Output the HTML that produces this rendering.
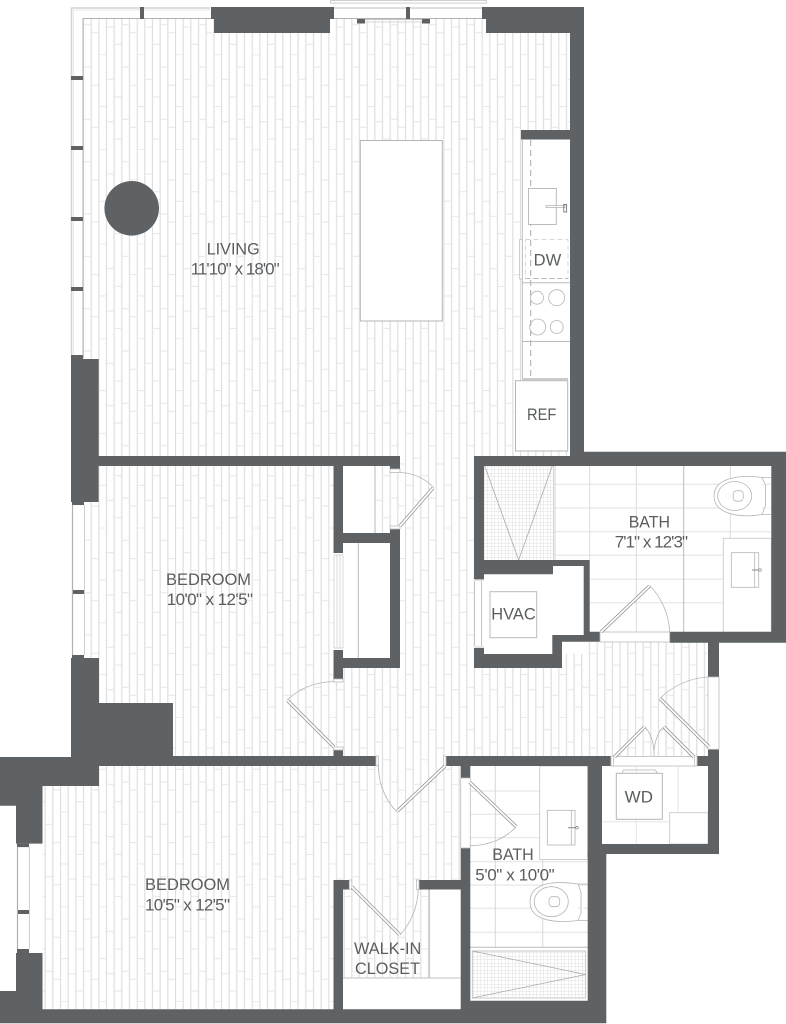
<!DOCTYPE html>
<html>
<head>
<meta charset="utf-8">
<title>Floor plan</title>
<style>
html,body{margin:0;padding:0;background:#fff;width:786px;height:1024px;overflow:hidden}
svg{display:block}
text{font-family:"Liberation Sans",sans-serif;font-size:16.5px;fill:#5a5d5f}
text.d{font-size:17px}
.w{fill:#5f6264}
.t{stroke:#aaa;stroke-width:.8;fill:none}
.m{stroke:#bbb;stroke-width:1;fill:none}
.f{stroke:#e2e2e2;stroke-width:1;fill:none}
.a{stroke:#b5b5b5;stroke-width:.8;fill:none}
</style>
</head>
<body>
<svg width="786" height="1024" viewBox="0 0 786 1024" xmlns="http://www.w3.org/2000/svg">
<defs>
<pattern id="pl" patternUnits="userSpaceOnUse" x="136.67" y="338.3" width="38.33" height="94.67">
<path d="M.5,0V94.67M8.17,0V94.67M15.83,0V94.67M23.5,0V94.67M31.17,0V94.67" stroke="#dedede" stroke-width="1.2" fill="none"/>
<path d="M0,.3H7.67M0,52.3H7.67M7.67,25H15.33M7.67,67.4H15.33M15.33,42.7H23M15.33,84.7H23M23,12.7H30.67M23,65H30.67M30.67,31H38.33M30.67,73H38.33" stroke="#e6e6e6" stroke-width="1" fill="none"/>
</pattern>
<pattern id="mesh" patternUnits="userSpaceOnUse" x="484" y="466" width="3.5" height="3.5">
<path d="M0,0H3.5M0,0V3.5" stroke="#d6d6d6" stroke-width=".7" fill="none"/>
</pattern>
<path id="leaves" d="M400,526L433,488M334,747L287.5,700.5M445,766L397.5,811M352,887L399.5,934.5M601,632L649.5,586M469.5,782L516,826.5M614.5,757L644.5,727M694,757L664,727M709,747L660,698.5"/>
</defs>

<!-- floor -->
<path fill="url(#pl)" d="M83,18.5H570V130H521V381H516V451H570V456H474V668H562V642H708V756H460.7V880H429V978H343V1009H42.5V786H99V659H84V502H99V456H83Z"/>
<rect x="343" y="466" width="32" height="67" fill="#fff"/>
<rect x="343" y="533" width="57" height="135" fill="#fff"/>
<path class="m" d="M375,466V533M358.3,543V658"/>
<rect x="429" y="889" width="32" height="120" fill="#fff"/>
<rect x="343" y="978" width="118" height="31" fill="#fff"/>
<path d="M343,978H461" stroke="#d5d5d5" stroke-width="1.5"/>
<path class="m" d="M429.3,889V978"/>

<!-- living windows -->
<path d="M71.5,355V8H210M330,8H486" stroke="#d4d4d4" stroke-width="1.6" fill="none"/>
<path d="M83,358V18.5H211M334,18.5H486" stroke="#b0b0b0" stroke-width="1" fill="none"/>
<path d="M73.5,355V10H210" stroke="#e8e8e8" stroke-width="1" fill="none"/>
<rect x="330.5" y=".5" width="156" height="2.6" fill="#fff" stroke="#c4c4c4" stroke-width=".8"/>
<path d="M365,19.5H422" stroke="#c8c8c8" stroke-width="1"/><path d="M365,22H422" stroke="#d8d8d8" stroke-width="1"/>
<rect class="w" x="71" y="76" width="12" height="4"/><rect class="w" x="71" y="146" width="12" height="4"/><rect class="w" x="71" y="217" width="12" height="4"/><rect class="w" x="71" y="287" width="12" height="4"/>
<rect class="w" x="140" y="7" width="4" height="12"/><rect class="w" x="211" y="7" width="4" height="12"/><rect class="w" x="330" y="7" width="4" height="12"/>
<rect class="w" x="406" y="7" width="4" height="12"/><rect class="w" x="482" y="7" width="5" height="12"/>
<rect class="w" x="357" y="19" width="8" height="4.5"/><rect class="w" x="422" y="19" width="8" height="4.5"/>

<!-- island, column -->
<rect x="360.3" y="140.5" width="82" height="180.5" fill="#fff" stroke="#b5b5b5" stroke-width="1"/>
<circle cx="131.7" cy="208.3" r="27.3" class="w"/>

<!-- kitchen -->
<rect x="522.3" y="140" width="47.7" height="238" fill="#fff"/>
<path class="m" d="M522.3,140V379"/>
<path d="M530.7,140V378" stroke="#aaa" stroke-width="1" stroke-dasharray="6 4" fill="none"/>
<rect x="528.5" y="188.5" width="27.8" height="36" fill="#fff" stroke="#bbb" stroke-width="1"/>
<rect x="546" y="205.6" width="19" height="1.8" fill="#fff" stroke="#aaa" stroke-width=".7"/>
<rect x="563.8" y="204.5" width="2.8" height="7.5" fill="none" stroke="#777" stroke-width=".9"/>
<rect x="525.5" y="239.5" width="42.5" height="39" fill="none" stroke="#d8d8d8" stroke-width="1" stroke-dasharray="5 3"/>
<path d="M525.5,278.5H568" stroke="#bbb" stroke-width="1" stroke-dasharray="5 3"/>
<rect x="519.7" y="239.5" width="2.6" height="39.5" fill="#fff" stroke="#bbb" stroke-width=".8"/>
<path class="m" d="M522.3,282.7H570M522.3,341.5H570"/>
<circle class="a" cx="537" cy="297.7" r="6.5"/><circle class="a" cx="556.7" cy="297.7" r="8"/><circle class="a" cx="537.7" cy="327" r="8"/><circle class="a" cx="556.7" cy="327" r="6.5"/>
<path d="M522,379H568" stroke="#ccc" stroke-width="2"/>
<rect x="515.5" y="380.7" width="52.2" height="70.3" fill="#fff" stroke="#b5b5b5" stroke-width="1"/>

<!-- bath 1 -->
<rect x="484" y="466" width="288" height="166" fill="#fff"/>
<path class="f" d="M554,484.3H771M554,508H771M554,531.7H771M554,555.3H771M590,579.3H771M590,602.7H771"/>
<path stroke="#dcdcdc" stroke-width="1" fill="none" d="M589.7,466V560M636.3,466V632M730.3,466V538"/>
<path class="m" d="M683.7,466V632"/>
<rect x="484" y="466" width="69" height="94" fill="url(#mesh)"/>
<path d="M553.5,466V560M555,466V560" stroke="#ccc" stroke-width=".8" fill="none"/>
<path class="t" d="M484.7,466L518.7,560L552.3,466"/>
<path class="a" fill="#fff" d="M762,477.5C742,474.5 714,477 714,496C714,515 742,518 762,514.5H771M762,477.5H771M762,477.5L765.5,485V506L762,514.5" style="fill:#fff"/>
<ellipse class="a" cx="734.7" cy="496" rx="17" ry="14.5"/>
<rect class="a" x="733.2" y="490.7" width="10" height="10.5" rx="3.5"/>
<rect x="723.3" y="538.3" width="48" height="94" fill="#fff" stroke="#c4c4c4" stroke-width=".8"/>
<rect class="a" x="731.3" y="552.7" width="27.4" height="34.6"/>
<path class="a" d="M754.7,552.7V587.3"/>
<path d="M752,570H759" stroke="#888" stroke-width="1"/><circle cx="760" cy="570" r="1.3" fill="#fff" stroke="#888" stroke-width=".7"/>

<!-- HVAC -->
<rect x="484" y="566" width="100" height="88" fill="#fff"/>
<rect x="474" y="579" width="10" height="69" fill="#fff"/>
<path class="a" d="M474.5,581V646M481.5,581V646M474.5,580H484M474.5,647H484"/>
<rect x="490" y="591.7" width="46.7" height="46" fill="#fff" stroke="#bbb" stroke-width="1"/>

<!-- bath 2 -->
<rect x="470" y="766" width="118" height="235" fill="#fff"/>
<path class="f" d="M470,791H540M470,814.3H540M470,837.7H540M470,861.7H588M470,885H588M470,908.3H588M470,932.3H588"/>
<path stroke="#d8d8d8" stroke-width="1" fill="none" d="M495.3,766V948M542.7,860V948"/>
<path class="m" d="M470,947.3H588"/>
<rect x="539.7" y="766" width="48" height="93.5" fill="#fff" stroke="#c4c4c4" stroke-width=".8"/>
<rect class="a" x="547.3" y="810.3" width="27.7" height="34.7"/>
<path class="a" d="M571.3,810.3V845"/>
<path d="M568,827.7H576" stroke="#888" stroke-width="1"/><circle cx="577" cy="827.7" r="1.3" fill="#fff" stroke="#888" stroke-width=".7"/>
<path class="a" style="fill:#fff" d="M578,884C558,881 530,881 530,902C530,922 558,923 578,920.5H587.7M578,884H587.7M578,884L581,892V913L578,920.5"/>
<ellipse class="a" cx="551.3" cy="901.7" rx="17" ry="15"/>
<rect class="a" x="549" y="896.7" width="10.7" height="10" rx="3.5"/>
<rect x="472.3" y="951" width="113.4" height="47" fill="url(#mesh)" stroke="#bbb" stroke-width=".8"/>
<path class="t" d="M472.3,951L585.7,974.5L472.3,998"/>

<!-- laundry -->
<rect x="602" y="766" width="106" height="78" fill="#fff"/>
<path stroke="#e6e6e6" stroke-width="1" fill="none" d="M602,821.7H670M636.3,766V844M678,766V812"/>
<rect x="669.7" y="812.7" width="38.3" height="31.3" fill="#fff" stroke="#c4c4c4" stroke-width=".8"/>
<rect x="616.3" y="773.3" width="46" height="46" fill="#fff" stroke="#b5b5b5" stroke-width="1"/>
<path class="a" d="M622,773L623.5,770H655.5L657,773"/>

<!-- walls -->
<g class="w">
<polygon points="486,7 584,7 584,451.7 786,451.7 786,642.7 669.7,642.7 669.7,631.7 771.3,631.7 771.3,466 484,466 484,560 589.7,560 589.7,631.7 600,631.7 600,641.7 562,641.7 562,668 474,668 474,648 484,648 484,654 552.3,654 552.3,635 583.7,635 583.7,566 553,566 553,574.3 484,574.3 484,579.3 474,579.3 474,456 570,456 570,33 486,33"/>
<rect x="214" y="7" width="116" height="26"/>
<rect x="521" y="130" width="49" height="9.5"/>
<rect x="71" y="359" width="27.7" height="143"/>
<rect x="71" y="355" width="12" height="4"/>
<rect x="72" y="502" width="12" height="3"/>
<rect x="72" y="590" width="12" height="4"/>
<rect x="72" y="655" width="12" height="4"/>
<rect x="98" y="456" width="302" height="10"/>
<rect x="390" y="456" width="10" height="16"/>
<rect x="333.5" y="466" width="9.5" height="87"/>
<rect x="343" y="533" width="57" height="10"/>
<rect x="390" y="527" width="10" height="141"/>
<rect x="333.5" y="658" width="66.5" height="10"/>
<rect x="333.5" y="650" width="9.5" height="30"/>
<rect x="333.5" y="750" width="9.5" height="7"/>
<polygon points="71,658 99,658 99,703 173,703 173,756 376,756 376,766 99,766 99,786 42.5,786 42.5,843.6 16,843.6 16,805.7 0,805.7 0,757 71,757"/>
<rect x="17" y="843.6" width="12" height="3.5"/>
<rect x="17" y="910" width="12" height="4"/>
<rect x="17" y="949" width="12" height="4"/>
<polygon points="16,953 42.5,953 42.5,1009.3 333.5,1009.3 333.5,880 349.3,880 349.3,889.5 343,889.5 343,1009.3 460.7,1009.3 460.7,889.5 419,889.5 419,880 460.7,880 460.7,848 470.3,848 470.3,1000.7 587.7,1000.7 587.7,854 602,854 602,844 708,844 708,766 697,766 697,756 708,756 708,749.3 719,749.3 719,854 606.3,854 606.3,1023.3 0,1023.3 0,991 16,991"/>
<rect x="446" y="756" width="165" height="10"/>
<rect x="460.7" y="756" width="9.6" height="22"/>
<rect x="587.7" y="756" width="14.3" height="100"/>
<rect x="708" y="642" width="11" height="35"/>
</g>

<!-- bedroom windows -->
<path d="M72.5,505V655" stroke="#b0b0b0" stroke-width="1.2"/><path d="M84.5,505V655" stroke="#d0d0d0" stroke-width="1"/>
<path d="M17.5,847V949" stroke="#b0b0b0" stroke-width="1.2"/><path d="M29.5,847V949" stroke="#d0d0d0" stroke-width="1"/>

<!-- bifold closet side -->
<rect x="333.5" y="553" width="9.5" height="97" fill="#fff"/>
<path d="M334,555V648M337,555V648M340,555V648M343,555V648M334,555H343M334,648H343" stroke="#c8c8c8" stroke-width=".7" fill="none"/>

<!-- door thresholds & jambs -->
<g fill="#fff" stroke="#bbb" stroke-width=".8">
<rect x="390" y="469" width="10" height="3.5"/>
<rect x="390" y="526" width="10" height="3"/>
<rect x="333.5" y="747" width="9.5" height="3"/>
<rect x="333.5" y="679" width="9.5" height="3"/>
<rect x="376" y="756" width="2.5" height="10"/>
<rect x="443.5" y="756" width="2.5" height="10"/>
<rect x="349.3" y="880" width="2.5" height="9.5"/>
<rect x="416.5" y="880" width="2.5" height="9.5"/>
<rect x="600" y="632" width="69.7" height="10"/>
<rect x="460.7" y="778" width="9.6" height="70"/>
<rect x="611" y="756.5" width="86" height="9.5"/>
<rect x="708" y="677" width="11" height="72.3"/>
</g>
<rect x="611" y="756" width="2.5" height="10" fill="#fff" stroke="#bbb" stroke-width=".7"/>
<rect x="694.5" y="756" width="2.5" height="10" fill="#fff" stroke="#bbb" stroke-width=".7"/>

<!-- door arcs -->
<path class="a" d="M434,488C424,477 412,473 400,472.5"/>
<path class="a" d="M287,700C300,688 316,682 333.5,681.5"/>
<path class="a" d="M397,812C385,800 378.5,783 378.3,765"/>
<path class="a" d="M400,935C411,923 418,906 418.3,889"/>
<path class="a" d="M649.7,585.5C661,597 669,614 669.7,632"/>
<path class="a" d="M516.3,827C504,839 488,845.5 470.3,845.7"/>
<path class="a" d="M644.7,726.7C651,733 654.5,745 654,756M663.7,726.7C657,733 653.5,745 654,756"/>
<path class="a" d="M660,698.5C672,686 690,678 708,677"/>

<!-- door leaves -->
<use href="#leaves" fill="none" stroke="#999" stroke-width="3.4"/>
<use href="#leaves" fill="none" stroke="#fff" stroke-width="1.8"/>

<!-- labels -->
<text x="206.7" y="254.7" textLength="53" lengthAdjust="spacingAndGlyphs">LIVING</text>
<text class="d" x="190.7" y="274.3" textLength="89" lengthAdjust="spacing">11'10" x 18'0"</text>
<text x="533.7" y="265.3" textLength="27.6" lengthAdjust="spacingAndGlyphs">DW</text>
<text x="527" y="420" textLength="29.3" lengthAdjust="spacingAndGlyphs">REF</text>
<text x="628.7" y="527.7" textLength="41.3" lengthAdjust="spacingAndGlyphs">BATH</text>
<text class="d" x="614.7" y="547.7" textLength="73.3" lengthAdjust="spacing">7'1" x 12'3"</text>
<text x="491.3" y="619.3" textLength="44.4" lengthAdjust="spacingAndGlyphs">HVAC</text>
<text x="166" y="585" textLength="85" lengthAdjust="spacingAndGlyphs">BEDROOM</text>
<text class="d" x="166.7" y="605" textLength="86.3" lengthAdjust="spacing">10'0" x 12'5"</text>
<text x="145" y="890" textLength="85" lengthAdjust="spacingAndGlyphs">BEDROOM</text>
<text class="d" x="145" y="910.7" textLength="85" lengthAdjust="spacing">10'5" x 12'5"</text>
<text x="624.7" y="802.3" textLength="28.3" lengthAdjust="spacingAndGlyphs">WD</text>
<text x="492.3" y="860" textLength="41.4" lengthAdjust="spacingAndGlyphs">BATH</text>
<text class="d" x="475.3" y="880.7" textLength="79.4" lengthAdjust="spacing">5'0" x 10'0"</text>
<text x="354" y="954" textLength="67.3" lengthAdjust="spacingAndGlyphs">WALK-IN</text>
<text x="355" y="974" textLength="65" lengthAdjust="spacingAndGlyphs">CLOSET</text>
</svg>
</body>
</html>
